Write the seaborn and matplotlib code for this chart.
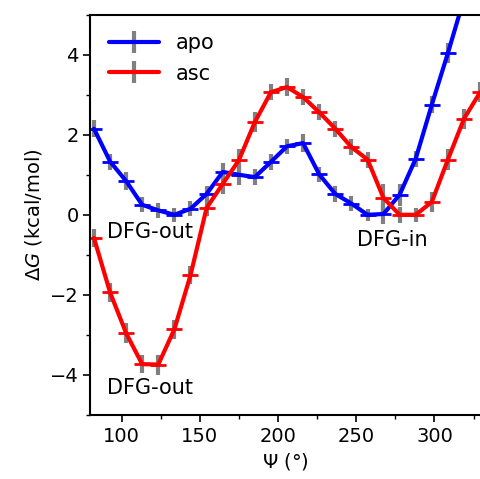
import numpy as np
import pandas as pd
import matplotlib
matplotlib.use("Agg")
import matplotlib.pyplot as plt
from matplotlib.lines import Line2D
from matplotlib.legend_handler import HandlerTuple
from matplotlib.ticker import MultipleLocator
import seaborn as sns

# Psi bin centres (deg) and free energies (kcal/mol)
psi = [82.3, 92.6, 102.9, 113.1, 123.4, 133.7, 144.0, 154.3, 164.6, 174.9,
       185.1, 195.4, 205.7, 216.0, 226.3, 236.6, 246.9, 257.2, 267.4, 277.7,
       288.0, 298.3, 308.6, 318.9, 329.2]

apo_dg = [2.15, 1.33, 0.84, 0.25, 0.11, 0.0, 0.15, 0.52, 1.07, 1.0,
          0.94, 1.32, 1.71, 1.79, 1.01, 0.52, 0.28, 0.0, 0.02, 0.5,
          1.4, 2.75, 4.04, 5.4, 6.6]
apo_err = [0.22, 0.2, 0.22, 0.19, 0.19, 0.17, 0.19, 0.2, 0.22, 0.25,
           0.2, 0.2, 0.19, 0.23, 0.19, 0.2, 0.18, 0.15, 0.25, 0.27,
           0.2, 0.22, 0.25, 0.25, 0.25]

asc_dg = [-0.58, -1.94, -2.96, -3.73, -3.74, -2.86, -1.51, 0.17, 0.77, 1.36,
          2.31, 3.06, 3.19, 2.94, 2.56, 2.15, 1.69, 1.38, 0.42, 0.0,
          0.0, 0.32, 1.38, 2.4, 3.06]
asc_err = [0.22, 0.23, 0.25, 0.23, 0.25, 0.23, 0.23, 0.2, 0.25, 0.29,
           0.25, 0.2, 0.23, 0.2, 0.2, 0.2, 0.2, 0.2, 0.35, 0.2,
           0.17, 0.25, 0.27, 0.25, 0.25]

systems = ["apo", "asc"]
palette = {"apo": "blue", "asc": "red"}

df = pd.concat([
    pd.DataFrame({"psi": psi, "dG": apo_dg, "err": apo_err, "system": "apo"}),
    pd.DataFrame({"psi": psi, "dG": asc_dg, "err": asc_err, "system": "asc"}),
])

sns.set_style("ticks")
plt.rcParams.update({
    "axes.edgecolor": "black",
    "axes.linewidth": 1.5,
    "xtick.color": "black",
    "ytick.color": "black",
    "xtick.major.size": 5,
    "ytick.major.size": 5,
    "xtick.minor.size": 2.8,
    "ytick.minor.size": 2.8,
    "xtick.major.width": 1.2,
    "ytick.major.width": 1.2,
    "xtick.minor.width": 1.0,
    "ytick.minor.width": 1.0,
    "xtick.labelsize": 14,
    "ytick.labelsize": 14,
    "axes.labelsize": 14,
    "text.color": "black",
    "axes.labelcolor": "black",
})
plt.rcParams["font.family"] = ["DejaVu Sans"]

fig = plt.figure(figsize=(4.8, 4.79), dpi=100)
ax = fig.add_axes([0.1883, 0.1336, 0.8146, 0.836])

# gray error bars underneath
for s in systems:
    d = df[df["system"] == s]
    ax.errorbar(d["psi"], d["dG"], yerr=d["err"], fmt="none",
                ecolor="gray", elinewidth=3, zorder=1.5)

sns.lineplot(data=df, x="psi", y="dG", hue="system", palette=palette,
             marker="_", markersize=11, linewidth=3, errorbar=None,
             legend=False, ax=ax, zorder=2)
for ln in ax.lines:
    ln.set_markeredgecolor(ln.get_color())
    ln.set_markeredgewidth(2)

ax.set_xlim(80, 330)
ax.set_ylim(-5, 5)
ax.xaxis.set_major_locator(MultipleLocator(50))
ax.xaxis.set_minor_locator(MultipleLocator(25))
ax.yaxis.set_major_locator(MultipleLocator(2))
ax.yaxis.set_minor_locator(MultipleLocator(1))
ax.set_xlabel(r"$\Psi$ (°)", fontsize=14)
ax.set_ylabel(r"$\Delta G$ (kcal/mol)", fontsize=14)

ax.text(90.6, -0.44, "DFG-out", fontsize=15, va="center", ha="left")
ax.text(90.6, -4.33, "DFG-out", fontsize=15, va="center", ha="left")
ax.text(250.5, -0.64, "DFG-in", fontsize=15, va="center", ha="left")

# legend: colored line with a gray error bar across it
handles = []
for s in systems:
    bar = Line2D([], [], color="gray", marker="|", markersize=16,
                 markeredgewidth=3, linestyle="none")
    line = Line2D([], [], color=palette[s], linewidth=3)
    handles.append((bar, line))
ax.legend(handles, systems, handler_map={tuple: HandlerTuple(ndivide=1)},
          loc="upper left", frameon=False, fontsize=15, handlelength=2.4)

fig.savefig("out.png", dpi=100)
